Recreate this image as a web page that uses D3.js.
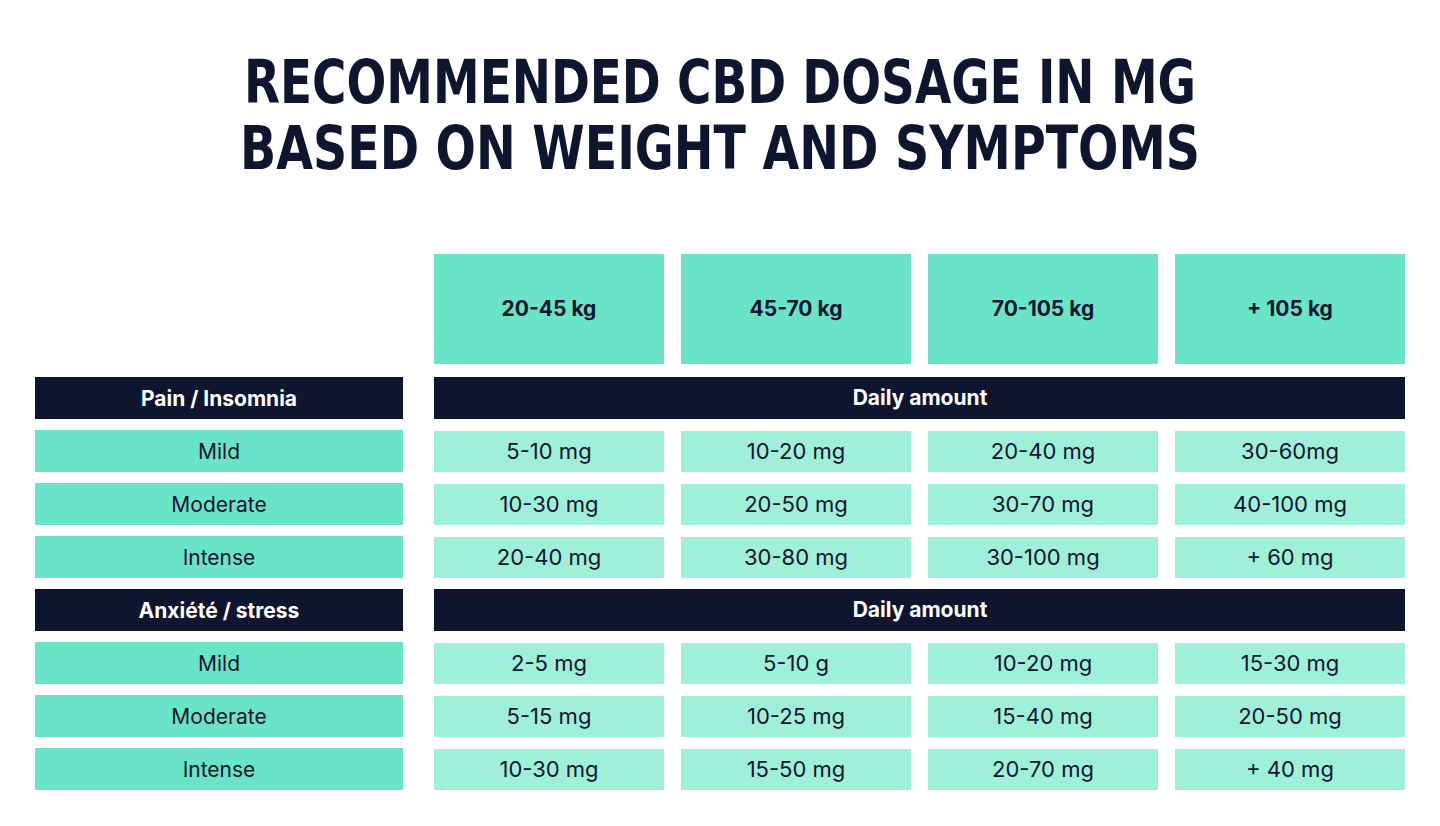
<!DOCTYPE html><html><head><meta charset="utf-8"><script src="https://cdn.jsdelivr.net/npm/d3@7"></script>
<style>body{margin:0;background:#fff}</style></head><body><svg id="c" width="1440" height="826"></svg>
<script>
const titleLines=["RECOMMENDED CBD DOSAGE IN MG","BASED ON WEIGHT AND SYMPTOMS"];
const weights=["20-45 kg","45-70 kg","70-105 kg","+ 105 kg"];
const groups=["Pain / Insomnia","Anxiété / stress"];
const levels=["Mild","Moderate","Intense"];
const groupHeader="Daily amount";
const painValues=[["5-10 mg","10-20 mg","20-40 mg","30-60mg"],["10-30 mg","20-50 mg","30-70 mg","40-100 mg"],["20-40 mg","30-80 mg","30-100 mg","+ 60 mg"]];
const anxValues=[["2-5 mg","5-10 g","10-20 mg","15-30 mg"],["5-15 mg","10-25 mg","15-40 mg","20-50 mg"],["10-30 mg","15-50 mg","20-70 mg","+ 40 mg"]];
const dark="#0e152e",head="#6ae4c8",light="#9ef0d9";
const svg=d3.select("#c");
const font="Inter, 'Open Sans', sans-serif";
const titleW=[952,960];
svg.selectAll("text.t").data(titleLines).join("text").attr("x",720).attr("y",(d,i)=>103+i*66)
 .attr("text-anchor","middle").attr("font-family","'Liberation Sans Narrow','DejaVu Sans Condensed',sans-serif")
 .attr("font-weight","bold").attr("font-size",60).attr("fill",dark)
 .attr("textLength",(d,i)=>titleW[i]).attr("lengthAdjust","spacingAndGlyphs").text(d=>d);
const x=d3.scaleBand().domain(weights).range([434,1405]).paddingInner(17/247);
const rows=[];
[painValues,anxValues].forEach((vals,g)=>{rows.push({type:"g",label:groups[g]});levels.forEach((l,i)=>rows.push({type:"r",label:l,vals:vals[i]}));});
const y=d3.scaleBand().domain(d3.range(rows.length)).range([377,790]).paddingInner(11/53);
weights.forEach(w=>{svg.append("rect").attr("x",x(w)).attr("y",254).attr("width",x.bandwidth()).attr("height",110).attr("fill",head);
 svg.append("text").attr("x",x(w)+x.bandwidth()/2).attr("y",316).attr("text-anchor","middle").attr("font-family",font).attr("font-weight","bold").attr("font-size",21).attr("fill",dark).text(w);});
rows.forEach((r,i)=>{const yy=y(i),h=y.bandwidth();
 const g=r.type==="g";
 svg.append("rect").attr("x",35).attr("y",yy).attr("width",368).attr("height",h).attr("fill",g?dark:head);
 svg.append("text").attr("x",219).attr("y",yy+h/2+8).attr("text-anchor","middle").attr("font-family",font).attr("font-weight",g?"bold":"normal").attr("font-size",21).attr("fill",g?"#fff":dark).text(r.label);
 if(g){svg.append("rect").attr("x",434).attr("y",yy).attr("width",971).attr("height",h).attr("fill",dark);
  svg.append("text").attr("x",920).attr("y",yy+h/2+7).attr("text-anchor","middle").attr("font-family",font).attr("font-weight","bold").attr("font-size",21).attr("fill","#fff").text(groupHeader);}
 else weights.forEach((w,j)=>{svg.append("rect").attr("x",x(w)).attr("y",yy+1).attr("width",x.bandwidth()).attr("height",h-1).attr("fill",light);
  svg.append("text").attr("x",x(w)+x.bandwidth()/2).attr("y",yy+h/2+8).attr("text-anchor","middle").attr("font-family",font).attr("font-size",22).attr("fill",dark).text(r.vals[j]);});
});
</script></body></html>
